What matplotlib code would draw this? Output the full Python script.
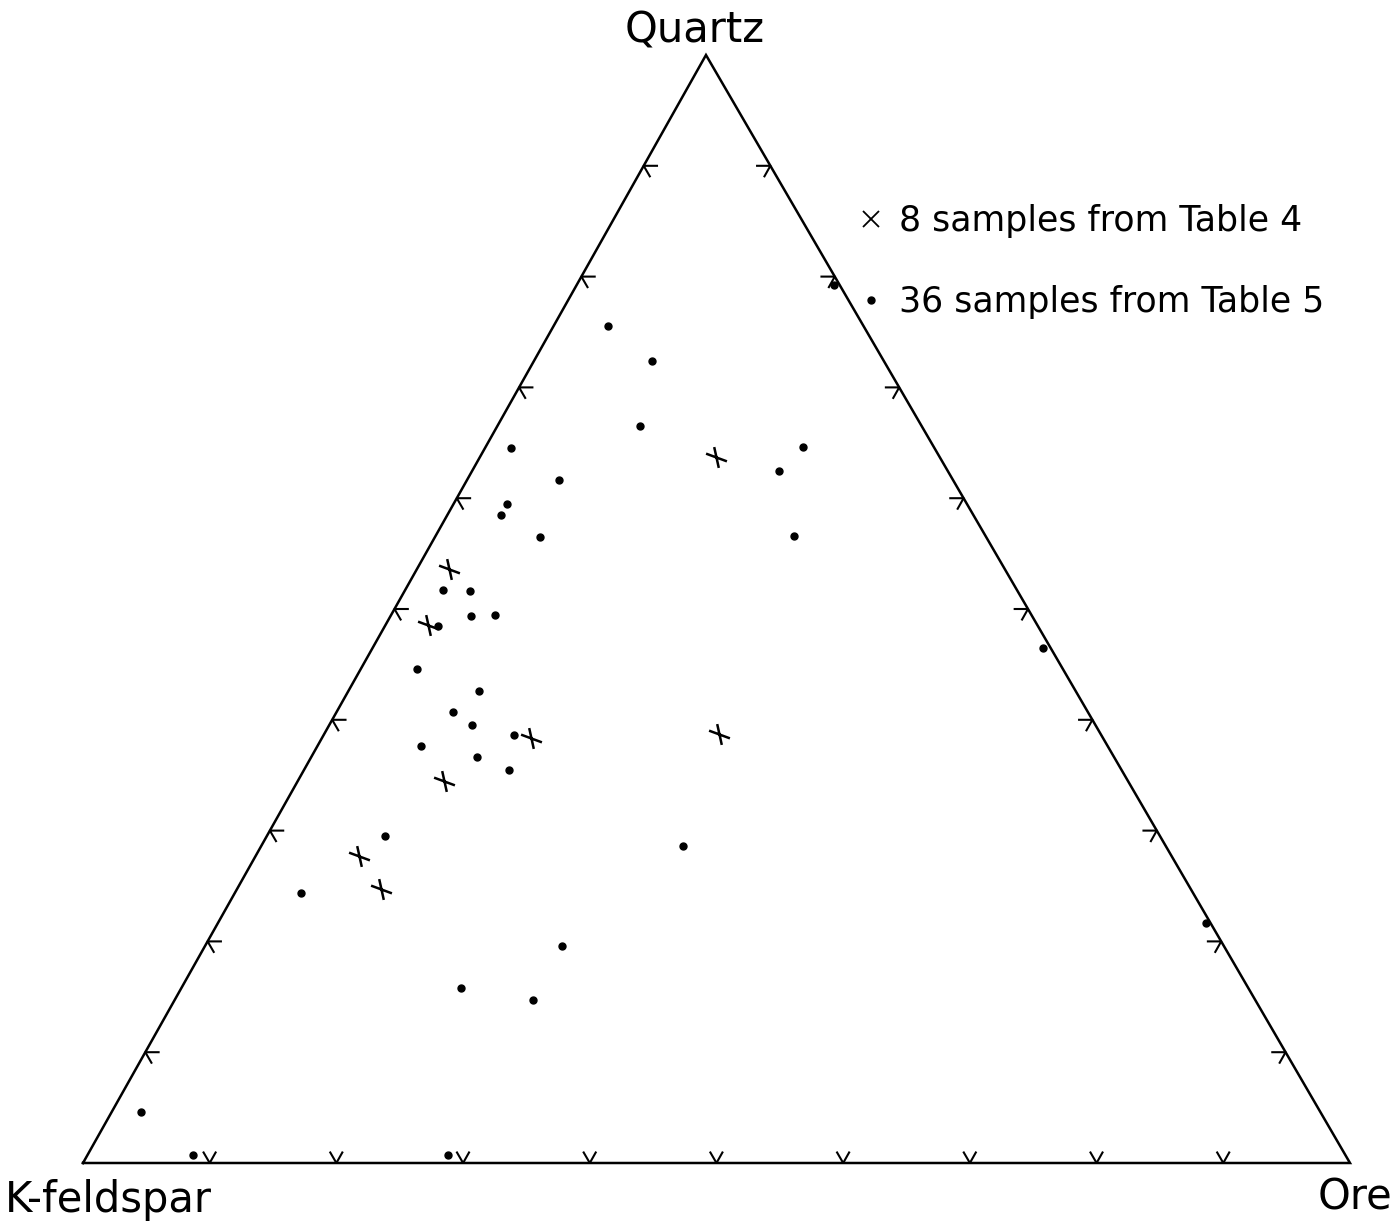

# Q-K-O ternary diagram: quartz / K-feldspar / ore compositions of the samples
import numpy as np
import matplotlib
matplotlib.use("Agg")
import matplotlib.pyplot as plt
from matplotlib.path import Path
from matplotlib.lines import Line2D

plt.rcParams['font.family'] = ['DejaVu Sans']

# corner names
apex_label = "Quartz"
left_label = "K-feldspar"
right_label = "Ore"

# Table 4 samples (percent)
t4_quartz = [63.7, 53.6, 48.6, 38.4, 38.7, 34.5, 27.7, 24.7]
t4_kfeld  = [17.7, 43.9, 48.1, 45.1, 30.1, 54.0, 64.1, 63.9]
t4_ore    = [18.6,  2.5,  3.3, 16.5, 31.2, 11.5,  8.2, 11.4]

# Table 5 samples (percent)
t5_quartz = [75.5, 72.4, 66.5, 64.5, 64.6, 62.5, 61.6, 59.5, 58.5, 56.5,
             56.6, 51.7, 51.6, 49.4, 49.5, 48.5, 44.6, 42.6, 40.7, 39.5,
             38.6, 37.6, 36.6, 35.5, 29.5, 28.6, 24.4, 19.6, 15.8, 14.7,
             4.6, 0.7, 0.7, 46.5, 21.7, 79.2]
t5_kfeld  = [20.2, 18.3, 22.2, 33.4, 10.3, 13.3, 31.1, 36.3, 37.3, 35.2,
             15.1, 45.3, 43.2, 44.3, 42.3, 47.3, 51.0, 47.1, 50.1, 49.2,
             46.4, 54.2, 50.3, 48.3, 61.2, 38.1, 70.4, 52.2, 62.1, 57.0,
             93.1, 91.0, 70.8, 0.6, 0.3, 0.5]
t5_ore    = [4.3, 9.3, 11.3, 2.1, 25.1, 24.2, 7.3, 4.2, 4.2, 8.3,
             28.3, 3.0, 5.2, 6.3, 8.2, 4.2, 4.4, 10.3, 9.2, 11.3,
             15.0, 8.2, 13.1, 16.2, 9.3, 33.3, 5.2, 28.2, 22.1, 28.3,
             2.3, 8.3, 28.5, 52.9, 78.0, 20.3]

legend_labels = ["8 samples from Table 4", "36 samples from Table 5"]
tick_values = np.arange(10, 100, 10)

# horizontal position of the Quartz corner (plotted sheet is slightly skewed)
APEX_X = 0.4917


def to_xy(q, k, o):
    q = np.asarray(q, float)
    k = np.asarray(k, float)
    o = np.asarray(o, float)
    tot = q + k + o
    q, o = q / tot, o / tot
    return o + q * APEX_X, q


fig = plt.figure(figsize=(13.94, 12.22), dpi=100)
ax = fig.add_axes([83 / 1394, 59 / 1222, 1267 / 1394, 1108 / 1222])
ax.set_xlim(0, 1)
ax.set_ylim(0, 1)
ax.axis('off')

# triangle outline
ax.plot([0, 1, APEX_X, 0], [0, 0, 1, 0], color='black', lw=1.8,
        solid_joinstyle='miter', clip_on=False)

# tick marks drawn as short pieces of the grid directions
s = 0.0095
h = 0.0105
tk = dict(color='black', lw=1.5, clip_on=False)
for t in tick_values / 100.0:
    # base
    bx, by = to_xy(0, 1 - t, t)
    ax.plot([bx - (1 - APEX_X) * s, bx, bx + APEX_X * s], [s, 0, s], **tk)
    # left side
    lx, ly = to_xy(t, 1 - t, 0)
    ax.plot([lx + h, lx, lx + (1 - APEX_X) * s], [ly, ly, ly - s], **tk)
    # right side
    rx, ry = to_xy(t, 0, 1 - t)
    ax.plot([rx - h, rx, rx - APEX_X * s], [ry, ry, ry - s], **tk)

# hand-drawn style cross
cross = Path([(-1, 0.37), (1, -0.37), (-0.22, 1), (0.22, -1)],
             [Path.MOVETO, Path.LINETO, Path.MOVETO, Path.LINETO])

x4, y4 = to_xy(t4_quartz, t4_kfeld, t4_ore)
ax.plot(x4, y4, ls='none', marker=cross, ms=15, mew=1.8,
        mec='black', mfc='none', clip_on=False)

x5, y5 = to_xy(t5_quartz, t5_kfeld, t5_ore)
ax.plot(x5, y5, ls='none', marker='o', ms=5, mec='black', mfc='black',
        clip_on=False)

# corner labels
ax.text(0.4826, 1.022, apex_label, fontsize=30, ha='center', va='center')
ax.text(-0.0616, -0.0334, left_label, fontsize=30, ha='left', va='center')
ax.text(0.9747, -0.0315, right_label, fontsize=30, ha='left', va='center')

handles = [
    Line2D([], [], ls='none', marker='x', ms=11, mew=1.3, color='black'),
    Line2D([], [], ls='none', marker='o', ms=5, color='black'),
]
ax.legend(handles, legend_labels, loc='upper left',
          bbox_to_anchor=(0.6, 0.881), frameon=False, fontsize=25,
          handlelength=0.6, handletextpad=0.5, labelspacing=1.35,
          borderpad=0)

fig.savefig("out.png", dpi=100)
